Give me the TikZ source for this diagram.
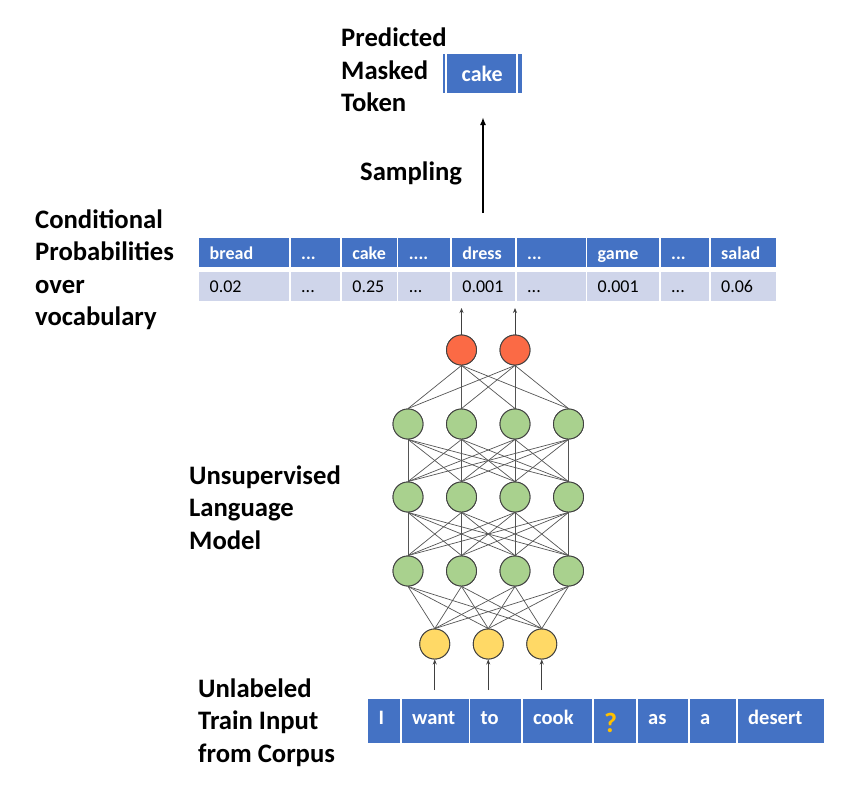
\documentclass[tikz,border=0pt]{standalone}
\usepackage{fontspec}
\setmainfont{Carlito}
\usetikzlibrary{arrows.meta}
\definecolor{hblue}{HTML}{4472C4}
\definecolor{vrow}{HTML}{CFD5EA}
\definecolor{nred}{HTML}{FB6A45}
\definecolor{ngreen}{HTML}{A9D18E}
\definecolor{nyellow}{HTML}{FFD966}
\definecolor{qgold}{HTML}{FFC000}
\definecolor{edgegray}{HTML}{555555}
\newcommand\myell{...}
\newcommand\myfell{....}
\tikzset{
 lbl/.style={font=\fontsize{26.67pt}{32.5pt}\selectfont\bfseries, align=left, anchor=base west, inner sep=0pt},
 cellbase/.style={anchor=north west, inner xsep=10.5pt, inner ysep=0pt, align=left},
 hcell/.style={cellbase, fill=hblue, text=white, font=\fontsize{18pt}{20pt}\selectfont\bfseries, text height=22pt, text depth=7.4pt},
 vcell/.style={cellbase, fill=vrow, text=black, font=\fontsize{18pt}{20pt}\selectfont, text height=21.4pt, text depth=8pt},
 icell/.style={cellbase, fill=hblue, text=white, font=\fontsize{20.5pt}{22pt}\selectfont\bfseries, text height=25pt, text depth=19pt},
 neuron/.style={circle, draw=black!75, line width=0.9pt, minimum size=30pt, inner sep=0pt},
 conn/.style={draw=edgegray, line width=0.7pt},
 uparr/.style={draw=black!75, line width=0.8pt, -{Stealth[length=5pt,width=4pt]}},
 bigarr/.style={draw=black, line width=1.6pt, -{Latex[length=8pt,width=6pt]}},
}
\begin{document}
\begin{tikzpicture}[x=1pt,y=-1pt]
\useasboundingbox (0,0) rectangle (859,785);
\fill[white] (0,0) rectangle (859,785);

% labels (anchor = baseline of the last line)
\node[lbl] (predlbl) at (341,111.5) {Predicted\\Masked\\Token};
\node[lbl] (samplbl) at (360,180) {Sampling};
\node[lbl] (condlbl) at (35,325.5) {Conditional\\Probabilities\\over\\vocabulary};
\node[lbl] (unsuplbl) at (189,549) {Unsupervised\\Language\\Model};
\node[lbl] (unlablbl) at (198,762) {Unlabeled\\Train Input\\from Corpus};

% predicted token
\node[fill=hblue, text=white, anchor=north west, inner sep=0pt, minimum width=79.4pt,
      text height=28.4pt, text depth=11pt, font=\fontsize{22pt}{24pt}\selectfont\bfseries] (pred) at (442.3,53.3) {cake};
\draw[white, line width=1.7pt] ([xshift=3.5pt]pred.north west) -- ([xshift=3.5pt]pred.south west);
\draw[white, line width=2pt] ([xshift=-5pt]pred.north east) -- ([xshift=-5pt]pred.south east);

% sampling arrow
\coordinate (sampA) at (483,213);
\coordinate (sampB) at (483,117);
\draw[bigarr] (sampA) -- (sampB);

% table header
\foreach \x/\w/\t [count=\i, evaluate=\w as \tw using \w-21] in
  {199/90/bread, 290.5/49.7/\myell, 341.7/55/cake, 398.2/52/\myfell, 451.7/63.3/dress,
   516.5/69/\myell, 587/72/game, 660.5/48.5/\myell, 710.5/65.5/salad}
  \node[hcell, minimum width=\w pt, text width=\tw pt] (h\i) at (\x,237.3) {\t};
% table values
\foreach \x/\w/\t [count=\i, evaluate=\w as \tw using \w-21] in
  {199/90/0.02, 290.5/49.7/\myell, 341.7/55/0.25, 398.2/52/\myell, 451.7/63.3/0.001,
   516.5/69/\myell, 587/72/0.001, 660.5/48.5/\myell, 710.5/65.5/0.06}
  \node[vcell, minimum width=\w pt, text width=\tw pt] (v\i) at (\x,271.3) {\t};

% input row
\foreach \x/\w/\t [count=\i, evaluate=\w as \tw using \w-21] in
  {368/32/I, 401.5/67/want, 470/51/to, 522.5/69.3/cook,
   593.5/42.5/{\raisebox{-8pt}{\color{qgold}\fontsize{28pt}{30pt}\selectfont ?}},
   637.5/50.3/as, 689.5/46.5/a, 737.5/86.5/desert}
  \node[icell, minimum width=\w pt, text width=\tw pt] (in\i) at (\x,699) {\t};

% neurons
\node[neuron, fill=nred] (r1) at (461.5,350) {};
\node[neuron, fill=nred] (r2) at (515,350) {};
\foreach \x [count=\i] in {408,461.5,515,568.5} {
  \node[neuron, fill=ngreen] (ga\i) at (\x,424) {};
  \node[neuron, fill=ngreen] (gb\i) at (\x,497) {};
  \node[neuron, fill=ngreen] (gc\i) at (\x,571) {};
}
\foreach \x [count=\i] in {434.75,488.25,541.75}
  \node[neuron, fill=nyellow] (y\i) at (\x,644) {};

% connections
\foreach \i in {1,2} \foreach \j in {1,...,4} \draw[conn] (r\i.south) -- (ga\j.north);
\foreach \i in {1,...,4} \foreach \j in {1,...,4} {
  \draw[conn] (ga\i.south) -- (gb\j.north);
  \draw[conn] (gb\i.south) -- (gc\j.north);
}
\foreach \i in {1,...,4} \foreach \j in {1,2,3} \draw[conn] (gc\i.south) -- (y\j.north);
% redraw neurons on top of edges
\node[neuron, fill=nred] at (r1) {};
\node[neuron, fill=nred] at (r2) {};
\foreach \i in {1,...,4} {
  \node[neuron, fill=ngreen] at (ga\i) {};
  \node[neuron, fill=ngreen] at (gb\i) {};
  \node[neuron, fill=ngreen] at (gc\i) {};
}
\foreach \i in {1,2,3} \node[neuron, fill=nyellow] at (y\i) {};

% small arrows
\coordinate (ra1) at (461.5,308);
\coordinate (ra2) at (515,308);
\draw[uparr] (r1.north) -- (ra1);
\draw[uparr] (r2.north) -- (ra2);
\foreach \x [count=\i] in {434.75,488.25,541.75} {
  \coordinate (ia\i) at (\x,690);
  \draw[uparr] (ia\i) -- (y\i.south);
}
\end{tikzpicture}
\end{document}
